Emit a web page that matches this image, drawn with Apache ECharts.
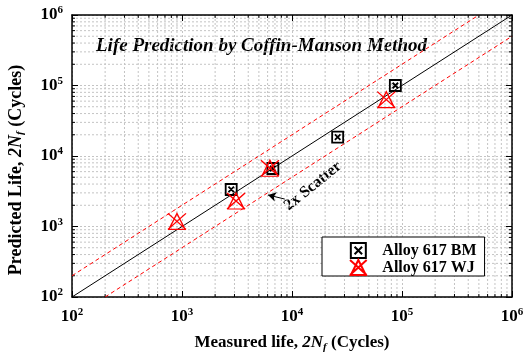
<!DOCTYPE html>
<html>
<head>
<meta charset="utf-8">
<script src="https://cdn.jsdelivr.net/npm/echarts@6/dist/echarts.min.js"></script>
<style>html,body{margin:0;padding:0;background:#fff}#chart{width:528px;height:353px}</style>
</head>
<body>
<div id="chart"></div>
<script>
// measured vs predicted life (cycles)
var bmMeasured = [2800, 6700, 26000, 87000];
var bmPredicted = [3350, 6650, 18500, 100000];
var wjMeasured = [900, 3100, 6300, 72000];
var wjPredicted = [1180, 2300, 6700, 63000];
var fitLine = [[100, 100], [1000000, 1000000]];
var upperBand = [[100, 200], [500000, 1000000]];
var lowerBand = [[200, 100], [1000000, 500000]];
var arrowTail = [8600, 2450];
var arrowTip = [6050, 2800];
var decades = [100, 1000, 10000, 100000];
var minorSteps = [2, 3, 4, 5, 6, 7, 8, 9];

var serif = 'Liberation Serif';
var minors = [];
decades.forEach(function (d) { minorSteps.forEach(function (s) { minors.push(d * s); }); });

function zip(a, b) { return a.map(function (v, i) { return [v, b[i]]; }); }

var gridStyle = { stroke: '#c4c4c4', lineWidth: 1, lineDash: [2, 2] };

function minorXItem(params, api) {
    var cs = params.coordSys;
    var x = api.coord([api.value(0), 100])[0];
    var top = cs.y, bottom = cs.y + cs.height;
    return { type: 'group', children: [
        { type: 'line', shape: { x1: x, y1: top, x2: x, y2: bottom }, style: gridStyle },
        { type: 'line', shape: { x1: x, y1: bottom - 3, x2: x, y2: bottom }, style: { stroke: '#000', lineWidth: 1 } },
        { type: 'line', shape: { x1: x, y1: top, x2: x, y2: top + 3 }, style: { stroke: '#000', lineWidth: 1 } }
    ] };
}
function minorYItem(params, api) {
    var cs = params.coordSys;
    var y = api.coord([100, api.value(1)])[1];
    var left = cs.x, right = cs.x + cs.width;
    return { type: 'group', children: [
        { type: 'line', shape: { x1: left, y1: y, x2: right, y2: y }, style: gridStyle },
        { type: 'line', shape: { x1: left, y1: y, x2: left + 3, y2: y }, style: { stroke: '#000', lineWidth: 1 } },
        { type: 'line', shape: { x1: right - 3, y1: y, x2: right, y2: y }, style: { stroke: '#000', lineWidth: 1 } }
    ] };
}

var powLabel = {
    formatter: function (v) { return '{b|10}{s|' + Math.round(Math.log10(v)) + '}'; },
    rich: {
        b: { fontFamily: serif, fontWeight: 'bold', fontSize: 17, color: '#000' },
        s: { fontFamily: serif, fontWeight: 'bold', fontSize: 11, color: '#000', padding: [0, 0, 9, 0] }
    }
};
function nameRich(size) {
    return {
        n: { fontFamily: serif, fontWeight: 'bold', fontSize: size, color: '#000' },
        i: { fontFamily: serif, fontWeight: 'bold', fontStyle: 'italic', fontSize: size, color: '#000' },
        f: { fontFamily: serif, fontWeight: 'bold', fontStyle: 'italic', fontSize: 11, color: '#000', padding: [9, 0, 0, 0] }
    };
}

function logAxis(pos, main) {
    return {
        type: 'log', logBase: 10, min: 100, max: 1000000, position: pos,
        axisLine: { show: true, onZero: false, lineStyle: { color: '#000', width: 1.5 } },
        axisTick: { show: true, inside: true, length: 6, lineStyle: { color: '#000', width: 1 } },
        axisLabel: main ? Object.assign({ show: true, margin: pos === 'left' ? 9 : 10 }, powLabel) : { show: false },
        splitLine: { show: main, lineStyle: { color: '#c4c4c4', type: [2, 2] } },
        minorTick: { show: false }
    };
}

var xMain = logAxis('bottom', true);
xMain.name = '{n|Measured life, }{i|2N}{f|f}{n| (Cycles)}';
xMain.nameLocation = 'middle';
xMain.nameGap = 36;
xMain.nameTextStyle = { rich: nameRich(17) };
var yMain = logAxis('left', true);
yMain.name = '{n|Predicted Life, }{i|2N}{f|f}{n| (Cycles)}';
yMain.nameLocation = 'middle';
yMain.nameGap = 46;
yMain.nameTextStyle = { rich: nameRich(18), padding: [0, 28, 0, 0] };

var chart = echarts.init(document.getElementById('chart'));
chart.setOption({
    animation: false,
    backgroundColor: '#fff',
    grid: { left: 72, right: 16, top: 15, bottom: 56, outerBoundsMode: 'none', containLabel: false },
    xAxis: [xMain, logAxis('top', false)],
    yAxis: [yMain, logAxis('right', false)],
    legend: {
        orient: 'vertical', left: 322, top: 237,
        backgroundColor: '#fff', borderColor: '#000', borderWidth: 1, borderRadius: 0,
        padding: [5, 8, 0, 27], itemGap: 0, itemWidth: 18, itemHeight: 15,
        textStyle: { fontFamily: serif, fontWeight: 'bold', fontSize: 16, lineHeight: 17, color: '#000', padding: [0, 0, 0, 10] },
        data: ['Alloy 617 BM', 'Alloy 617 WJ']
    },
    graphic: [
        { type: 'text', left: 96, top: 37, style: { text: 'Life Prediction by Coffin-Manson Method', font: 'italic bold 19px "Liberation Serif"', fill: '#000' } },
        { type: 'text', x: 313, y: 186, rotation: 0.68, style: { text: '2x Scatter', font: 'bold 16px "Liberation Serif"', fill: '#000', align: 'center', verticalAlign: 'middle' } }
    ],
    series: [
        { type: 'custom', silent: true, clip: false, z: 0, renderItem: minorXItem, data: minors.map(function (v) { return [v, 100]; }) },
        { type: 'custom', silent: true, clip: false, z: 0, renderItem: minorYItem, data: minors.map(function (v) { return [100, v]; }) },
        { type: 'line', silent: true, symbol: 'none', z: 2, lineStyle: { color: '#000', width: 1 }, data: fitLine },
        { type: 'line', silent: true, symbol: 'none', z: 2, lineStyle: { color: '#ff0000', width: 1, type: [4, 3] }, data: upperBand },
        {
            type: 'line', silent: true, symbol: 'none', z: 2, lineStyle: { color: '#ff0000', width: 1, type: [4, 3] }, data: lowerBand,
            markLine: {
                silent: true, symbol: ['none', 'arrow'], symbolSize: [7, 8],
                lineStyle: { color: '#000', width: 1, type: 'solid' }, label: { show: false },
                data: [[{ coord: arrowTail }, { coord: arrowTip }]]
            }
        },
        {
            name: 'Alloy 617 BM', type: 'scatter', z: 4,
            symbol: 'path://M0,0 L20,0 L20,20 L0,20 Z M5,5 L15,15 M15,5 L5,15', symbolSize: 11,
            itemStyle: { color: 'rgba(0,0,0,0)', borderColor: '#000', borderWidth: 1.8, opacity: 1 },
            data: zip(bmMeasured, bmPredicted)
        },
        {
            name: 'Alloy 617 WJ', type: 'scatter', z: 5,
            symbol: 'path://M0,0 L20,18 M20,0 L0,18 M10,0 L19,18 L1,18 Z', symbolSize: [18, 16],
            itemStyle: { color: 'rgba(0,0,0,0)', borderColor: '#ff0000', borderWidth: 1.3, opacity: 1 },
            data: zip(wjMeasured, wjPredicted)
        }
    ]
});
</script>
</body>
</html>
